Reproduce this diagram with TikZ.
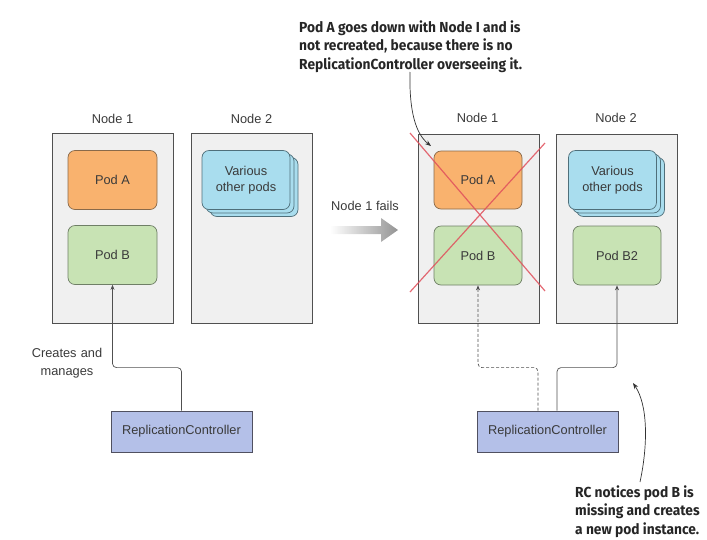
\documentclass[tikz,border=0pt]{standalone}
\usepackage{fontspec}
\setmainfont{Liberation Sans}
\newfontfamily\annotfont[FakeStretch=0.95]{Fira Sans}
\usetikzlibrary{arrows.meta}
\definecolor{boxfill}{HTML}{F0F0F0}
\definecolor{boxline}{HTML}{505050}
\definecolor{podafill}{HTML}{F9B26E}
\definecolor{podaline}{HTML}{8A6A4A}
\definecolor{podbfill}{HTML}{C8E3B4}
\definecolor{podbline}{HTML}{6F7F66}
\definecolor{otherfill}{HTML}{A9DDEE}
\definecolor{otherline}{HTML}{4F6F7A}
\definecolor{rcfill}{HTML}{B4C0E8}
\definecolor{rcline}{HTML}{505060}
\definecolor{txt}{HTML}{3A3A3A}
\definecolor{crossred}{HTML}{E0505C}
\begin{document}
\begin{tikzpicture}[x=1pt,y=-1pt,
  lbl/.style={text=txt,font=\fontsize{12.8}{16}\selectfont,inner sep=0pt,align=center},
  nodebox/.style={draw=boxline,fill=boxfill,line width=0.8pt,minimum width=121pt,minimum height=190pt,inner sep=0pt},
  poda/.style={draw=podaline,fill=podafill,rounded corners=7pt,line width=0.7pt,minimum width=89pt,minimum height=59pt,lbl},
  podb/.style={draw=podbline,fill=podbfill,rounded corners=7pt,line width=0.7pt,minimum width=89pt,minimum height=59pt,lbl},
  other/.style={draw=otherline,fill=otherfill,rounded corners=7pt,line width=0.7pt,minimum width=88pt,minimum height=59pt,lbl},
  rcbox/.style={draw=rcline,fill=rcfill,line width=0.8pt,minimum width=141pt,minimum height=41pt,lbl},
  conn/.style={draw=boxline,line width=0.7pt,rounded corners=4pt,-{Stealth[length=5pt,width=4pt]}},
  annot/.style={text=black!85,font=\annotfont\bfseries\fontsize{14.5}{18.5}\selectfont,align=left,inner sep=0pt,anchor=west},
  callout/.style={draw=black!80,line width=0.7pt,-{Stealth[length=6pt,width=4.5pt]}}
]
\useasboundingbox (0,0) rectangle (707,539);

% ---------- left state ----------
\node[nodebox] (n1L) at (112.5,228) {};
\node[nodebox] (n2L) at (251.5,228) {};
\node[lbl] (n1Llbl) at (112.5,119) {Node 1};
\node[lbl] (n2Llbl) at (251.5,119) {Node 2};
\node[poda] (podAL) at (112.5,180) {Pod A};
\node[podb] (podBL) at (112.5,255) {Pod B};
\node[other] (oL3) at (254,187) {};
\node[other] (oL2) at (250,183.5) {};
\node[other] (oL1) at (246,180) {Various\\other pods};
\node[rcbox] (rcL) at (181.5,431.5) {ReplicationController};
\draw[conn] (rcL.north) -- ++(0,-43) -| (podBL.south);
\node[lbl,text width=90pt,font=\fontsize{12.8}{18}\selectfont] (createsLbl) at (67,363) {Creates and\\manages};

% ---------- fail arrow ----------
\node[lbl] (failLbl) at (365,206) {Node 1 fails};
\shade[left color=white,right color=black!42,draw=none]
  (330,226) -- (381,226) -- (381,218) -- (398,230) -- (381,242) -- (381,234) -- (330,234) -- cycle;

% ---------- right state ----------
\node[nodebox,minimum height=189pt] (n1R) at (478.5,228.5) {};
\node[nodebox,minimum height=189pt] (n2R) at (616.5,228.5) {};
\node[lbl] (n1Rlbl) at (477.5,118) {Node 1};
\node[lbl] (n2Rlbl) at (616,118) {Node 2};
\node[poda,minimum width=88pt,minimum height=58pt] (podAR) at (478,180) {Pod A};
\node[podb,minimum width=88pt,minimum height=59pt] (podBR) at (478,255.5) {Pod B};
\node[other] (oR3) at (620.5,187) {};
\node[other] (oR2) at (616.5,183.5) {};
\node[other] (oR1) at (612.5,180) {Various\\other pods};
\node[podb,minimum width=88pt,minimum height=59pt] (podB2) at (617,255.5) {Pod B2};
\node[rcbox] (rcR) at (547.5,431.5) {ReplicationController};
\draw[conn,dashed,dash pattern=on 3pt off 2pt] ([xshift=-9.5pt]rcR.north) -- ++(0,-43) -| (podBR.south);
\draw[conn] ([xshift=9.5pt]rcR.north) -- ++(0,-43) -| (podB2.south);

% red cross
\coordinate (xA1) at (410,133);
\coordinate (xA2) at (545,291);
\coordinate (xB1) at (545,143);
\coordinate (xB2) at (410,292);
\draw[crossred,line width=1.2pt,opacity=0.85] (xA1) -- (xA2);
\draw[crossred,line width=1.2pt,opacity=0.85] (xB1) -- (xB2);

% ---------- annotations ----------
\node[annot] (topNote) at (299,46.5) {Pod A goes down with Node I and is\\not recreated, because there is no\\ReplicationController overseeing it.};
\coordinate (topFrom) at (410,72);
\coordinate (topTo) at (431,146);
\draw[callout] (topFrom) .. controls (409,112) and (416,134) .. (topTo);

\node[annot] (botNote) at (575,511.5) {RC notices pod B is\\missing and creates\\a new pod instance.};
\coordinate (botFrom) at (640,482);
\coordinate (botTo) at (633,383);
\draw[callout] (botFrom) .. controls (648,445) and (648,405) .. (botTo);
\end{tikzpicture}
\end{document}
